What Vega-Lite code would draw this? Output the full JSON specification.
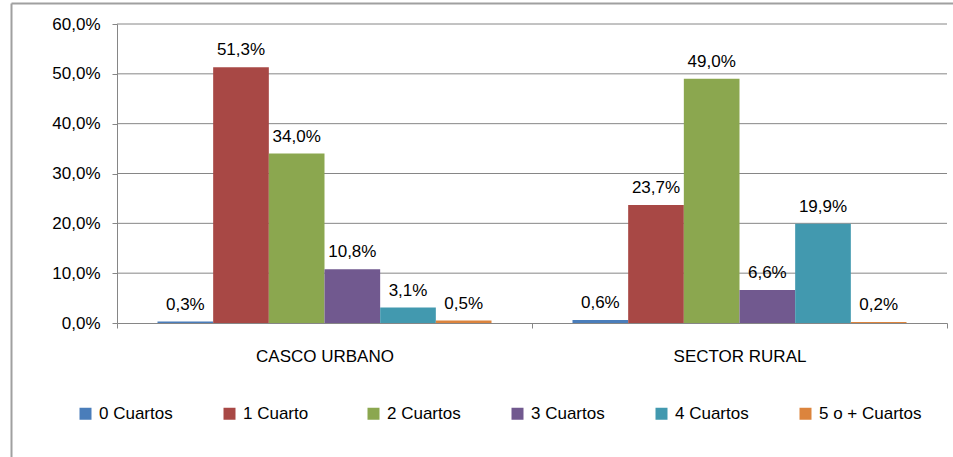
{
  "$schema": "https://vega.github.io/schema/vega-lite/v6.json",
  "autosize": {"type": "none"},
  "padding": {"left": 11, "top": 3, "right": 0, "bottom": 0},
  "width": 942,
  "height": 454,
  "background": "white",
  "config": {
    "locale": {"number": {"decimal": ",", "thousands": ".", "grouping": [3], "currency": ["", " €"]}},
    "view": {"stroke": null},
    "font": "Liberation Sans"
  },
  "datasets": {
    "barras": [
      {"zona": "CASCO URBANO", "cuartos": "0 Cuartos", "valor": 0.003},
      {"zona": "CASCO URBANO", "cuartos": "1 Cuarto", "valor": 0.513},
      {"zona": "CASCO URBANO", "cuartos": "2 Cuartos", "valor": 0.340},
      {"zona": "CASCO URBANO", "cuartos": "3 Cuartos", "valor": 0.108},
      {"zona": "CASCO URBANO", "cuartos": "4 Cuartos", "valor": 0.031},
      {"zona": "CASCO URBANO", "cuartos": "5 o + Cuartos", "valor": 0.005},
      {"zona": "SECTOR RURAL", "cuartos": "0 Cuartos", "valor": 0.006},
      {"zona": "SECTOR RURAL", "cuartos": "1 Cuarto", "valor": 0.237},
      {"zona": "SECTOR RURAL", "cuartos": "2 Cuartos", "valor": 0.490},
      {"zona": "SECTOR RURAL", "cuartos": "3 Cuartos", "valor": 0.066},
      {"zona": "SECTOR RURAL", "cuartos": "4 Cuartos", "valor": 0.199},
      {"zona": "SECTOR RURAL", "cuartos": "5 o + Cuartos", "valor": 0.002}
    ],
    "rejilla": [
      {"g": 0.1}, {"g": 0.2}, {"g": 0.3}, {"g": 0.4}, {"g": 0.5}, {"g": 0.6}
    ]
  },
  "layer": [
    {
      "data": {"name": "rejilla"},
      "mark": {"type": "rule", "color": "#868686", "strokeWidth": 1},
      "encoding": {
        "y": {"field": "g", "type": "quantitative",
              "scale": {"domain": [0, 0.6], "range": [320, 21], "nice": false}, "axis": null},
        "x": {"datum": 0, "type": "quantitative",
              "scale": {"domain": [0, 1], "range": [106, 936], "nice": false}, "axis": null},
        "x2": {"datum": 1}
      }
    },
    {
      "data": {"name": "barras"},
      "encoding": {
        "x": {
          "field": "zona", "type": "nominal", "sort": null,
          "scale": {"range": [106, 936], "paddingInner": 0, "paddingOuter": 0},
          "axis": {
            "title": null, "labelAngle": 0, "offset": -134,
            "domainColor": "#868686", "tickColor": "#868686", "tickSize": 5,
            "tickBand": "extent", "labelFontSize": 17, "labelColor": "black",
            "labelPadding": 20, "grid": false
          }
        },
        "xOffset": {
          "field": "cuartos", "type": "nominal",
          "sort": ["0 Cuartos", "1 Cuarto", "2 Cuartos", "3 Cuartos", "4 Cuartos", "5 o + Cuartos"],
          "scale": {"paddingInner": 0, "paddingOuter": 0.7275}
        },
        "y": {
          "field": "valor", "type": "quantitative",
          "scale": {"domain": [0, 0.6], "range": [320, 21], "nice": false, "zero": true},
          "axis": {
            "orient": "left",
            "title": null, "offset": -106, "values": [0, 0.1, 0.2, 0.3, 0.4, 0.5, 0.6],
            "format": ".1%", "grid": false,
            "domainColor": "#868686", "tickColor": "#868686", "tickSize": 5,
            "labelFontSize": 17, "labelColor": "black", "labelPadding": 12
          }
        }
      },
      "layer": [
        {
          "mark": {"type": "bar", "stroke": null},
          "encoding": {
            "color": {
              "field": "cuartos", "type": "nominal",
              "scale": {
                "domain": ["0 Cuartos", "1 Cuarto", "2 Cuartos", "3 Cuartos", "4 Cuartos", "5 o + Cuartos"],
                "range": ["#4A7DBA", "#A84845", "#8BA74F", "#71598F", "#4299AF", "#DC843D"]
              },
              "legend": {
                "title": null, "orient": "none", "legendX": 66, "legendY": 402,
                "direction": "horizontal", "columns": 6, "gridAlign": "all",
                "columnPadding": 19, "symbolType": "square", "symbolSize": 144,
                "symbolStrokeWidth": 0, "symbolOpacity": 1, "labelFontSize": 17,
                "labelColor": "black", "labelOffset": 5, "labelLimit": 300
              }
            }
          }
        },
        {
          "mark": {"type": "text", "baseline": "alphabetic", "dy": -12, "fontSize": 17, "color": "black"},
          "encoding": {
            "text": {"field": "valor", "type": "quantitative", "format": ".1%"}
          }
        }
      ]
    },
    {
      "data": {"name": "barras"},
      "mark": {"type": "point", "opacity": 0},
      "encoding": {
        "x": {
          "field": "valor", "type": "quantitative",
          "axis": {"orient": "top", "title": null, "labels": false, "ticks": false, "grid": false,
                   "domainColor": "#a0a0a0", "domainWidth": 2, "offset": 0}
        },
        "y": {
          "field": "valor", "type": "quantitative",
          "axis": {"orient": "left", "title": null, "labels": false, "ticks": false, "grid": false,
                   "domainColor": "#a0a0a0", "domainWidth": 2, "offset": 0}
        }
      }
    }
  ],
  "resolve": {"scale": {"x": "independent", "y": "independent"}}
}
